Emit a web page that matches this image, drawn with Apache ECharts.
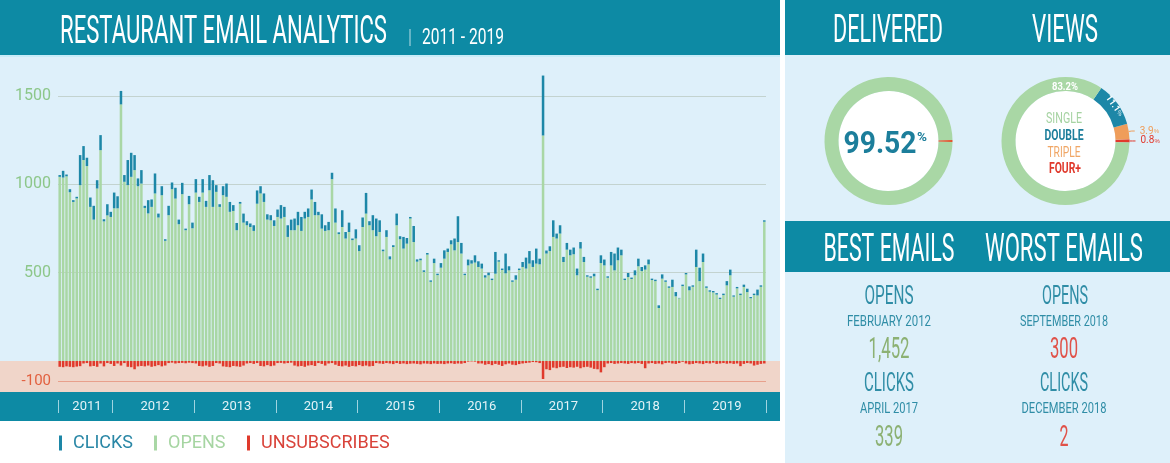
<!DOCTYPE html>
<html><head><meta charset="utf-8">
<script src="https://cdn.jsdelivr.net/npm/echarts@6/dist/echarts.min.js"></script>
<style>html,body{margin:0;padding:0;background:#fff}#c{width:1170px;height:463px}</style>
</head><body><div id="c"></div>
<script>
// ---------------- DATA ----------------
const years = [2011, 2012, 2013, 2014, 2015, 2016, 2017, 2018, 2019];
const firstMonth2011 = 5;
const categories = [];
for (const y of years) {
  for (let m = (y === 2011 ? firstMonth2011 : 1); m <= 12; m++) {
    for (const d of ['01', '16']) categories.push(y + '-' + String(m).padStart(2, '0') + '-' + d);
  }
}
const opens = [
  1042,1038,1045,955,900,920,995,1137,1103,872,
  800,976,1193,790,824,815,864,864,1452,1014,
  995,1042,1080,989,1004,866,835,872,948,812,
  938,680,825,972,919,774,944,740,887,751,
  953,900,953,872,966,872,957,872,938,929,
  844,849,740,890,783,768,758,736,890,948,
  900,800,796,764,815,806,815,702,740,740,
  768,736,806,815,914,825,825,749,736,740,
  1029,783,718,758,693,730,684,693,622,758,
  834,768,740,706,730,621,702,575,645,768,
  689,636,664,806,673,562,570,504,602,448,
  554,486,528,579,617,660,626,673,608,486,
  541,551,557,532,523,472,485,458,494,562,
  515,496,513,448,460,515,532,523,551,532,
  551,547,1276,608,622,702,693,721,560,630,
  598,604,485,636,560,477,471,479,401,554,
  541,471,541,513,570,598,458,475,464,485,
  536,509,517,547,458,452,300,466,448,414,
  419,366,355,424,490,400,420,532,452,560,
  414,392,388,376,351,373,428,485,364,411,
  373,419,390,355,373,371,420,788
];
const clicks = [
  10,38,10,17,10,9,170,79,47,53,
  78,47,85,12,63,29,89,68,76,38,
  142,136,85,44,76,12,75,42,113,22,
  51,9,53,38,61,26,64,9,47,32,
  76,29,76,34,86,151,38,15,51,75,
  56,33,41,10,51,23,20,32,75,41,
  48,30,29,32,42,76,57,66,60,66,
  76,79,38,48,56,75,19,81,32,47,
  36,80,10,95,37,53,9,52,33,54,
  117,23,85,100,66,9,38,17,10,66,
  17,66,32,9,91,13,9,9,9,8,
  25,8,26,47,19,23,67,146,60,8,
  33,19,41,32,28,13,15,8,123,8,
  8,112,23,8,25,8,28,62,71,38,
  85,32,339,17,27,94,28,47,29,38,
  32,38,38,37,29,8,8,15,8,44,
  33,8,76,95,72,32,8,23,8,28,
  43,23,24,27,8,8,15,24,8,8,
  41,24,2,8,8,22,8,98,76,48,
  8,8,8,8,7,8,24,32,7,8,
  8,13,19,7,8,33,8,8
];
const unsubscribes = [
  -28,-30,-26,-28,-30,-27,-25,-12,-10,-26,
  -24,-28,-12,-26,-10,-14,-24,-12,-22,-10,
  -28,-30,-40,-26,-24,-26,-22,-28,-25,-20,
  -26,-22,-10,-8,-12,-10,-9,-11,-8,-10,
  -12,-24,-26,-22,-28,-24,-10,-12,-26,-28,
  -30,-24,-26,-28,-22,-12,-10,-14,-10,-24,
  -26,-20,-25,-22,-10,-9,-12,-10,-8,-22,
  -26,-24,-28,-22,-20,-24,-10,-14,-22,-12,
  -10,-18,-24,-26,-22,-28,-24,-26,-20,-25,
  -22,-26,-24,-10,-12,-14,-10,-12,-15,-10,
  -14,-12,-15,-13,-12,-14,-16,-12,-13,-15,
  -12,-14,-13,-15,-12,-11,-14,-12,-13,-10,
  -3,-2,-3,-12,-12,-18,-15,-20,-14,-18,
  -24,-16,-12,-18,-20,-15,-12,-10,-8,-5,
  -6,-10,-87,-40,-44,-32,-35,-30,-28,-34,
  -30,-32,-28,-35,-30,-28,-32,-38,-40,-55,
  -30,-12,-10,-14,-12,-10,-12,-14,-10,-12,
  -10,-14,-35,-12,-10,-14,-12,-16,-10,-8,
  -12,-14,-10,-4,-12,-16,-14,-10,-12,-15,
  -10,-12,-8,-14,-12,-10,-13,-11,-14,-12,
  -25,-14,-10,-12,-22,-18,-14,-12
];
const yTickLabels = [500, 1000, 1500];
const negTickLabels = [-100];
const deliveredPct = 99.52;
const viewsNames = ['SINGLE', 'DOUBLE', 'TRIPLE', 'FOUR+'];
const viewsPct = [83.2, 11.1, 3.9, 0.8];
const bestTitles = ['OPENS', 'CLICKS'];
const bestDates = ['FEBRUARY 2012', 'APRIL 2017'];
const bestValues = ['1,452', '339'];
const worstDates = ['SEPTEMBER 2018', 'DECEMBER 2018'];
const worstValues = ['300', '2'];

// ---------------- STYLE ----------------
const TEAL = '#0d8aa4', LIGHT = '#def0fa', PINK = '#f0d5c9';
const C_OPEN = '#a9d7a5', C_CLICK = '#1d87a7', C_UNSUB = '#e03a2c';
const C_ORANGE = '#ef9d5a';
const FONT = "Roboto, sans-serif";
const mctx = document.createElement('canvas').getContext('2d');
function txt(text, x, y, font, width, color, align) {
  mctx.font = font;
  const w = mctx.measureText(text).width;
  return { type: 'text', x: x, y: y, scaleX: width / w, z: 100, silent: true,
    style: { text: text, font: font, fill: color, align: align || 'center', verticalAlign: 'middle' } };
}
function rect(x, y, w, h, fill) {
  return { type: 'rect', z: -10, silent: true, shape: { x: x, y: y, width: w, height: h }, style: { fill: fill } };
}

const graphics = [
  rect(0, 0, 780, 55, TEAL),
  rect(0, 55, 780, 306, LIGHT),
  rect(0, 55, 780, 2, '#c8ecf8'),
  rect(0, 361, 780, 31, PINK),
  rect(0, 392, 780, 29, TEAL),
  rect(785, 0, 385, 55, TEAL),
  rect(785, 55, 385, 166, LIGHT),
  rect(785, 221, 385, 51, TEAL),
  rect(785, 272, 385, 191, LIGHT),
  { type: 'circle', z: -5, silent: true, shape: { cx: 888.5, cy: 141, r: 50 }, style: { fill: '#fff' } },
  { type: 'circle', z: -5, silent: true, shape: { cx: 1065.5, cy: 141, r: 50 }, style: { fill: '#fff' } },
  txt('RESTAURANT EMAIL ANALYTICS', 60, 33, '39px Roboto', 327, '#fff', 'left'),
  txt('|', 410, 39, '20px Roboto', 2, '#fff', 'center'),
  txt(years[0] + ' - ' + years[years.length - 1], 422, 38, '22px Roboto', 82, '#fff', 'left'),
  txt('DELIVERED', 888, 32, '39px Roboto', 110, '#fff'),
  txt('VIEWS', 1065, 32, '39px Roboto', 66, '#fff'),
  txt('BEST EMAILS', 889, 251, '39px Roboto', 131, '#fff'),
  txt('WORST EMAILS', 1064, 251, '39px Roboto', 158, '#fff'),
  txt(String(deliveredPct), 880, 145, 'bold 32px Roboto', 73, '#1c7e9b'),
  txt('%', 922, 138, 'bold 13px Roboto', 10, '#1c7e9b'),
  txt('83.2%', 1065, 87, 'bold 10px Roboto', 26, '#fff'),
  txt(viewsNames[0], 1064, 119, '15px Roboto', 36, '#a6d3a2'),
  txt(viewsNames[1], 1064, 136, 'bold 15px Roboto', 39, '#1c7e9b'),
  txt(viewsNames[2], 1064, 153, '15px Roboto', 33, '#f0a665'),
  txt(viewsNames[3], 1065, 169, 'bold 15px Roboto', 32, '#e0392c'),
  // best
  txt(bestTitles[0], 889, 298, '25px Roboto', 49, '#2f8da6'),
  txt(bestDates[0], 889, 322, '15px Roboto', 84, '#2f8da6'),
  txt(bestValues[0], 889, 350, '30px Roboto', 41, '#8cb173'),
  txt(bestTitles[1], 889, 385, '25px Roboto', 50, '#2f8da6'),
  txt(bestDates[1], 889, 409, '15px Roboto', 58, '#2f8da6'),
  txt(bestValues[1], 889, 438, '30px Roboto', 28, '#8cb173'),
  // worst
  txt(bestTitles[0], 1065, 298, '25px Roboto', 46, '#2f8da6'),
  txt(worstDates[0], 1064, 322, '15px Roboto', 88, '#2f8da6'),
  txt(worstValues[0], 1064, 350, '30px Roboto', 28, '#e05249'),
  txt(bestTitles[1], 1064, 385, '25px Roboto', 48, '#2f8da6'),
  txt(worstDates[1], 1064, 409, '15px Roboto', 85, '#2f8da6'),
  txt(worstValues[1], 1064, 438, '30px Roboto', 9, '#e05249')
];

function isYearLabel(v) {
  const y = +v.slice(0, 4), md = v.slice(5);
  return (y === 2011 && md === '09-01') || (y > 2011 && md === '07-01');
}
function isYearStart(i, v) {
  return i === 0 || v.slice(5) === '01-01';
}
function legendAt(left, name, color) {
  return { left: left, top: 434, padding: 0, icon: 'rect', itemWidth: 3, itemHeight: 15, selectedMode: false,
    textStyle: { fontFamily: FONT, fontSize: 18, color: color, padding: [0, 0, 0, 6] }, data: [name] };
}

const chart = echarts.init(document.getElementById('c'));
chart.setOption({
  animation: false,
  backgroundColor: '#fff',
  graphic: { elements: graphics },
  legend: [
    legendAt(59, 'CLICKS', '#2a87a6'),
    legendAt(154, 'OPENS', '#a6d5a2'),
    legendAt(247, 'UNSUBSCRIBES', '#d9433a')
  ],
  grid: [
    { left: 58, right: 404, top: 57, height: 304 },
    { left: 58, right: 404, top: 361, height: 31 },
    { left: 58, right: 404, top: 399, height: 1 }
  ],
  xAxis: [
    { type: 'category', gridIndex: 0, data: categories, show: false },
    { type: 'category', gridIndex: 1, data: categories, show: false },
    { type: 'category', gridIndex: 2, data: categories,
      axisLine: { show: false },
      axisTick: { show: true, interval: isYearStart, length: 13, lineStyle: { color: '#9fd4e0', width: 1 } },
      axisLabel: { interval: function (i, v) { return isYearLabel(v); }, formatter: function (v) { return v.slice(0, 4); },
        color: '#e4f3f7', fontFamily: FONT, fontSize: 13, margin: 7, verticalAlign: 'middle' },
      splitLine: { show: false } }
  ],
  yAxis: [
    { type: 'value', gridIndex: 0, min: 0, max: 1720, interval: 500,
      axisLine: { show: false }, axisTick: { show: false },
      axisLabel: { formatter: function (v) { return yTickLabels.indexOf(v) >= 0 ? String(v) : ''; },
        color: '#8dc78a', fontFamily: FONT, fontSize: 16, margin: 7 },
      splitLine: { show: true, lineStyle: { width: 1, color: ['rgba(0,0,0,0)', '#c3d3cf', '#c3d3cf', '#c3d3cf', 'rgba(0,0,0,0)'] } } },
    { type: 'value', gridIndex: 1, min: -150, max: 0, interval: 50,
      axisLine: { show: false }, axisTick: { show: false },
      axisLabel: { formatter: function (v) { return negTickLabels.indexOf(v) >= 0 ? String(v) : ''; },
        color: '#e2603f', fontFamily: FONT, fontSize: 15, margin: 7 },
      splitLine: { show: true, lineStyle: { width: 1, color: ['rgba(0,0,0,0)', '#e8a08c', 'rgba(0,0,0,0)', 'rgba(0,0,0,0)'] } } },
    { type: 'value', gridIndex: 2, show: false }
  ],
  series: [
    { name: 'OPENS', type: 'bar', xAxisIndex: 0, yAxisIndex: 0, stack: 'e', data: opens, barWidth: '74%',
      itemStyle: { color: C_OPEN }, silent: true },
    { name: 'CLICKS', type: 'bar', xAxisIndex: 0, yAxisIndex: 0, stack: 'e', data: clicks, barWidth: '74%',
      itemStyle: { color: C_CLICK }, silent: true },
    { name: 'UNSUBSCRIBES', type: 'bar', xAxisIndex: 1, yAxisIndex: 1, data: unsubscribes, barWidth: '74%',
      itemStyle: { color: C_UNSUB }, silent: true },
    { name: 'Delivered', type: 'pie', center: [888.5, 141], radius: [50, 64], silent: true,
      startAngle: -(100 - deliveredPct) * 3.6 / 2, clockwise: false, label: { show: false }, labelLine: { show: false },
      data: [
        { name: 'Undelivered', value: +(100 - deliveredPct).toFixed(2), itemStyle: { color: '#e2552e' } },
        { name: 'Delivered', value: deliveredPct, itemStyle: { color: C_OPEN } }
      ] },
    { name: 'Views', type: 'pie', center: [1065.5, 141], radius: [50, 64], silent: true,
      startAngle: -viewsPct[3] * 3.6 / 2, clockwise: false, avoidLabelOverlap: true,
      data: [
        { name: viewsNames[3], value: viewsPct[3], itemStyle: { color: '#e2392c' },
          label: { show: true, position: 'outside', formatter: '{a|' + viewsPct[3] + '}{b|%}', color: '#e2392c',
            rich: { a: { fontSize: 10, fontFamily: FONT, color: '#e2392c' }, b: { fontSize: 6, color: '#e2392c' } } },
          labelLine: { show: true, length: 3, length2: 3, lineStyle: { color: '#e2392c', width: 1 } } },
        { name: viewsNames[2], value: viewsPct[2], itemStyle: { color: C_ORANGE },
          label: { show: true, position: 'outside', formatter: '{a|' + viewsPct[2] + '}{b|%}', color: C_ORANGE,
            rich: { a: { fontSize: 10, fontFamily: FONT, color: C_ORANGE }, b: { fontSize: 6, color: C_ORANGE } } },
          labelLine: { show: true, length: 3, length2: 3, lineStyle: { color: C_ORANGE, width: 1 } } },
        { name: viewsNames[1], value: viewsPct[1], itemStyle: { color: C_CLICK },
          label: { show: true, position: 'inside', rotate: 'tangential', formatter: '{a|' + viewsPct[1] + '}{b|%}',
            rich: { a: { fontSize: 9, fontWeight: 'bold', fontFamily: FONT, color: '#fff' }, b: { fontSize: 6, color: '#fff' } } } },
        { name: viewsNames[0], value: viewsPct[0], itemStyle: { color: C_OPEN }, label: { show: false }, labelLine: { show: false } }
      ] }
  ]
});
</script>
</body></html>
